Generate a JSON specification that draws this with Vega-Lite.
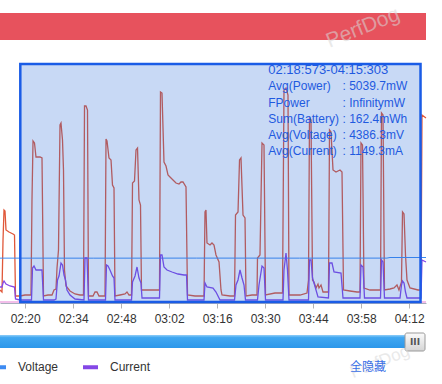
{
"$schema": "https://vega.github.io/schema/vega-lite/v6.json",
"autosize": {"type": "none"},
"width": 426, "height": 238,
"padding": {"left": 0, "top": 64, "right": 16, "bottom": 82},
"background": "white",
"config": {"view": {"stroke": null}, "font": "Liberation Sans"},
"datasets": {
"power": [[132.65,1200],[133.23,1000],[133.53,6200],[133.82,9200],[134.11,9100],[134.40,7200],[135.28,7000],[136.44,6800],[136.88,6700],[137.17,600],[138.48,600],[139.94,700],[141.69,700],[141.98,10200],[142.28,16100],[142.71,15900],[143.15,14500],[144.32,14500],[144.90,14400],[145.34,600],[146.65,700],[147.82,700],[148.40,1200],[148.98,1300],[149.28,3400],[149.71,5200],[150.15,17700],[150.44,17900],[150.88,16200],[151.17,13200],[151.46,3200],[151.90,1600],[153.07,1100],[154.53,800],[155.98,700],[157.00,700],[157.30,19600],[157.73,19600],[158.17,19200],[158.46,600],[159.78,600],[160.36,1000],[160.94,1000],[161.52,600],[163.28,600],[163.57,16300],[163.86,16100],[164.44,14400],[165.03,14200],[165.46,11700],[165.90,11400],[166.19,600],[167.65,700],[169.11,800],[169.69,1000],[170.28,700],[171.01,700],[171.30,11900],[171.88,12100],[172.32,15200],[172.76,15400],[173.19,10200],[173.63,9700],[173.92,1200],[176.40,1200],[178.73,1200],[179.17,1200],[179.46,21000],[179.90,20900],[180.48,14000],[181.07,13600],[181.65,12700],[182.23,12500],[183.11,12200],[183.98,11900],[184.86,11800],[185.44,12000],[186.02,12000],[186.90,11500],[187.34,700],[189.52,600],[192.15,600],[192.44,9000],[192.73,9200],[193.02,5900],[193.90,5700],[194.48,5900],[195.07,5700],[195.65,4700],[196.53,4000],[197.11,1200],[197.40,700],[199.73,600],[201.05,600],[201.34,8700],[202.07,9000],[202.51,14200],[202.94,14400],[203.53,8700],[204.11,8400],[204.40,600],[206.15,700],[207.61,700],[207.75,4400],[208.48,4700],[209.07,15900],[209.65,15700],[210.09,700],[212.86,900],[215.05,900],[215.48,21200],[216.07,21400],[216.65,20700],[216.94,700],[218.69,700],[220.15,700],[222.19,900],[222.63,2200],[222.92,18400],[223.36,18200],[223.80,2200],[224.23,2000],[224.82,1400],[225.40,1800],[225.69,1400],[226.28,1700],[226.86,1000],[228.02,1000],[228.46,1000],[228.76,17200],[229.19,17000],[229.78,13200],[230.65,13000],[231.82,13200],[232.40,13000],[232.84,1200],[234.73,1100],[236.77,1000],[237.65,1000],[237.94,15900],[238.38,15700],[238.82,1400],[240.57,1200],[242.90,1200],[243.63,1200],[243.92,18900],[244.36,18700],[244.79,1200],[246.40,1300],[247.57,1400],[248.44,1700],[249.02,1200],[249.75,2000],[250.05,9000],[250.49,8800],[250.92,4700],[251.36,2200],[252.23,1400],[254.57,1200],[255.44,1200],[255.73,18700],[256.90,18400]],
"current": [[132.65,1500],[133.23,1500],[133.53,1900],[133.82,2100],[134.40,1800],[135.57,1600],[136.88,1500],[137.17,300],[138.48,200],[141.84,200],[142.13,3400],[142.57,3600],[143.15,3200],[144.90,3200],[145.34,200],[148.40,200],[148.98,300],[149.42,2200],[149.86,2600],[150.44,3900],[150.88,3700],[151.32,2700],[151.75,2200],[152.19,1200],[153.07,700],[154.53,300],[157.15,200],[157.44,4400],[158.03,4400],[158.46,200],[163.42,200],[163.71,3700],[164.15,3600],[164.73,3200],[165.46,2600],[165.90,2400],[166.19,200],[171.01,200],[171.30,2000],[172.03,2600],[172.61,3500],[173.19,2400],[173.77,1900],[174.07,400],[179.17,400],[179.46,4700],[179.90,4700],[180.48,3500],[181.36,3200],[182.82,3000],[184.57,2800],[186.32,2700],[187.05,2700],[187.34,200],[192.15,200],[192.44,1900],[193.02,1500],[194.78,1400],[195.65,1000],[196.23,600],[196.82,200],[201.05,200],[201.48,1700],[202.07,2200],[202.65,3200],[203.24,2400],[203.82,1700],[204.25,200],[207.75,200],[208.19,1700],[209.07,3600],[209.65,3400],[210.09,200],[215.19,200],[215.48,3200],[216.07,4900],[216.50,3200],[216.94,200],[222.63,200],[222.92,4200],[223.36,4200],[223.80,2400],[224.23,1900],[225.40,500],[228.46,400],[228.76,3900],[229.48,3900],[230.07,3000],[232.11,2900],[232.69,400],[237.65,400],[237.94,3700],[238.53,3500],[238.96,400],[243.63,400],[243.92,4200],[244.36,4000],[244.79,400],[249.32,400],[249.75,1700],[250.05,2100],[250.49,1900],[250.92,1000],[251.36,400],[255.44,400],[255.73,4200],[256.90,4000]],
"voltage": [[132.65,4386],[160.0,4384],[190.0,4390],[220.0,4386],[245.5,4390],[246.4,4450],[256.9,4450]],
"other": [[132.65,0],[256.9,0]],
"sel": [{"start": 138.573, "end": 255.303}],
"info": [{"k":"h","label":"02:18:573-04:15:303","val":""},{"k":"p","label":"Avg(Power)","val":": 5039.7mW"},{"k":"f","label":"FPower","val":": InfinitymW"},{"k":"b","label":"Sum(Battery)","val":": 162.4mWh"},{"k":"v","label":"Avg(Voltage)","val":": 4386.3mV"},{"k":"c","label":"Avg(Current)","val":": 1149.3mA"}]
},
"layer": [
{
"layer": [
{"data": {"values": [{}]},
 "mark": {"type": "rect", "fill": "#e7525d"},
 "encoding": {
  "x": {"datum": 132.65, "type": "quantitative", "scale": {"domain": [132.65, 256.9], "nice": false, "zero": false}},
  "x2": {"datum": 256.9},
  "y": {"datum": 28900, "type": "quantitative", "scale": {"domain": [0, 23800], "nice": false, "zero": false}, "axis": null},
  "y2": {"datum": 26200}}},
{"data": {"values": [{}]},
 "mark": {"type": "text", "text": "PerfDog", "angle": -22, "fontSize": 21, "fill": "#d8d8d8", "opacity": 0.55, "align": "center", "baseline": "middle"},
 "encoding": {
  "x": {"datum": 238.53, "type": "quantitative", "scale": {"domain": [132.65, 256.9], "nice": false, "zero": false}},
  "y": {"datum": 27400, "type": "quantitative", "scale": {"domain": [0, 23800], "nice": false, "zero": false}, "axis": null}}},
{"data": {"name": "power"},
 "transform": [{"calculate": "datum[0]", "as": "t"}, {"calculate": "datum[1]", "as": "v"}, {"calculate": "'Power'", "as": "s"}],
 "mark": {"type": "line", "strokeWidth": 1.3},
 "encoding": {
  "x": {"field": "t", "type": "quantitative", "scale": {"domain": [132.65, 256.9], "nice": false, "zero": false},
   "axis": {"values": [140,154,168,182,196,210,224,238,252], "labelExpr": "(floor(datum.value/60) < 10 ? '0' : '') + floor(datum.value/60) + ':' + (datum.value % 60 < 10 ? '0' : '') + (datum.value % 60)", "title": null, "grid": false, "offset": 1, "tickSize": 5, "tickColor": "#b3b3b3", "domainColor": "#a9aebd", "labelColor": "#333333", "labelFontSize": 12, "labelFont": "Liberation Sans", "labelPadding": 5, "labelFlush": false, "labelOverlap": false}},
  "y": {"field": "v", "type": "quantitative", "scale": {"domain": [0, 23800], "nice": false, "zero": false}, "axis": null},
  "color": {"field": "s", "type": "nominal", "scale": {"domain": ["Power", "Voltage", "Current", "Other"], "range": ["#e0583a", "#3d8bf2", "#8447e6", "#e77fd6"]},
   "legend": {"orient": "none", "legendX": -11, "legendY": 293.5, "direction": "horizontal", "values": ["Voltage", "Current"], "title": "全隐藏", "titleOrient": "right", "titlePadding": 200, "titleColor": "#3a6fe6", "titleFont": "Noto Sans CJK SC", "titleFontSize": 12, "titleFontWeight": "normal", "symbolType": "stroke", "symbolSize": 225, "symbolStrokeWidth": 4, "labelFont": "Liberation Sans", "labelFontSize": 12, "labelColor": "#333333", "labelOffset": 10, "columnPadding": 16, "padding": 0,
    "encode": {"symbols": {"update": {"strokeWidth": {"value": 4}}}}}}}},
{"data": {"name": "voltage"},
 "transform": [{"calculate": "datum[0]", "as": "t"}, {"calculate": "datum[1]", "as": "v"}, {"calculate": "'Voltage'", "as": "s"}],
 "mark": {"type": "line", "strokeWidth": 1},
 "encoding": {
  "x": {"field": "t", "type": "quantitative", "scale": {"domain": [132.65, 256.9], "nice": false, "zero": false}},
  "y": {"field": "v", "type": "quantitative", "scale": {"domain": [0, 23800], "nice": false, "zero": false}, "axis": null},
  "color": {"field": "s", "type": "nominal"}}},
{"data": {"name": "current"},
 "transform": [{"calculate": "datum[0]", "as": "t"}, {"calculate": "datum[1]", "as": "v"}, {"calculate": "'Current'", "as": "s"}],
 "mark": {"type": "line", "strokeWidth": 1.3},
 "encoding": {
  "x": {"field": "t", "type": "quantitative", "scale": {"domain": [132.65, 256.9], "nice": false, "zero": false}},
  "y": {"field": "v", "type": "quantitative", "scale": {"domain": [0, 23800], "nice": false, "zero": false}, "axis": null},
  "color": {"field": "s", "type": "nominal"}}},
{"data": {"name": "other"},
 "transform": [{"calculate": "datum[0]", "as": "t"}, {"calculate": "datum[1]", "as": "v"}, {"calculate": "'Other'", "as": "s"}],
 "mark": {"type": "line", "strokeWidth": 1},
 "encoding": {
  "x": {"field": "t", "type": "quantitative", "scale": {"domain": [132.65, 256.9], "nice": false, "zero": false}},
  "y": {"field": "v", "type": "quantitative", "scale": {"domain": [0, 23800], "nice": false, "zero": false}, "axis": null},
  "color": {"field": "s", "type": "nominal"}}},
{"data": {"name": "sel"},
 "mark": {"type": "rect", "fill": "#2367d7", "fillOpacity": 0.25, "stroke": "#1a5ce6", "strokeWidth": 2.5},
 "encoding": {
  "x": {"field": "start", "type": "quantitative", "scale": {"domain": [132.65, 256.9], "nice": false, "zero": false}},
  "x2": {"field": "end"}}},
{"data": {"values": [{}]},
 "mark": {"type": "rect", "fill": {"gradient": "linear", "x1": 0, "y1": 0, "x2": 0, "y2": 1, "stops": [{"offset": 0, "color": "#8fcdf8"}, {"offset": 0.2, "color": "#40a7f1"}, {"offset": 1, "color": "#2c97ea"}]}},
 "encoding": {
  "x": {"datum": 132.65, "type": "quantitative", "scale": {"domain": [132.65, 256.9], "nice": false, "zero": false}},
  "x2": {"datum": 251.07},
  "y": {"datum": -3300, "type": "quantitative", "scale": {"domain": [0, 23800], "nice": false, "zero": false}, "axis": null},
  "y2": {"datum": -4600}}},
{"data": {"values": [{}]},
 "mark": {"type": "rect", "cornerRadius": 2, "stroke": "#9a9a9a", "strokeWidth": 1, "fill": {"gradient": "linear", "x1": 0, "y1": 0, "x2": 0, "y2": 1, "stops": [{"offset": 0, "color": "#fbfbfb"}, {"offset": 1, "color": "#d5d5d5"}]}},
 "encoding": {
  "x": {"datum": 250.78, "type": "quantitative", "scale": {"domain": [132.65, 256.9], "nice": false, "zero": false}},
  "x2": {"datum": 256.61},
  "y": {"datum": -3100, "type": "quantitative", "scale": {"domain": [0, 23800], "nice": false, "zero": false}, "axis": null},
  "y2": {"datum": -4900}}},
{"data": {"values": [{}]},
 "mark": {"type": "text", "text": "III", "font": "DejaVu Sans", "fontSize": 9, "fontWeight": "bold", "fill": "#555555", "align": "center", "baseline": "middle"},
 "encoding": {
  "x": {"datum": 253.69, "type": "quantitative", "scale": {"domain": [132.65, 256.9], "nice": false, "zero": false}},
  "y": {"datum": -4000, "type": "quantitative", "scale": {"domain": [0, 23800], "nice": false, "zero": false}, "axis": null}}},
{"data": {"values": [{}]},
 "mark": {"type": "text", "text": "PerfDog", "angle": -22, "fontSize": 17, "fill": "#d8d8d8", "opacity": 0.55, "align": "center", "baseline": "middle"},
 "encoding": {
  "x": {"datum": 243.48, "type": "quantitative", "scale": {"domain": [132.65, 256.9], "nice": false, "zero": false}},
  "y": {"datum": -6000, "type": "quantitative", "scale": {"domain": [0, 23800], "nice": false, "zero": false}, "axis": null}}}
]
},
{
"data": {"name": "info"},
"layer": [
{"mark": {"type": "text", "align": "left", "baseline": "middle", "fill": "#1f5ae0", "font": "Liberation Sans"},
 "encoding": {
  "x": {"datum": 210.9, "type": "quantitative", "scale": {"domain": [132.65, 256.9], "nice": false, "zero": false}},
  "y": {"field": "label", "type": "nominal", "sort": null, "scale": {"type": "point", "range": [6, 87.3], "padding": 0}, "axis": null},
  "text": {"field": "label"},
  "size": {"condition": {"test": "datum.k === 'h'", "value": 13}, "value": 12}}},
{"mark": {"type": "text", "align": "left", "baseline": "middle", "fill": "#1f5ae0", "font": "Liberation Sans", "fontSize": 12},
 "encoding": {
  "x": {"datum": 232.55, "type": "quantitative", "scale": {"domain": [132.65, 256.9], "nice": false, "zero": false}},
  "y": {"field": "label", "type": "nominal", "sort": null, "scale": {"type": "point", "range": [6, 87.3], "padding": 0}, "axis": null},
  "text": {"field": "val"}}}
]
}
],
"resolve": {"scale": {"y": "independent"}}
}
